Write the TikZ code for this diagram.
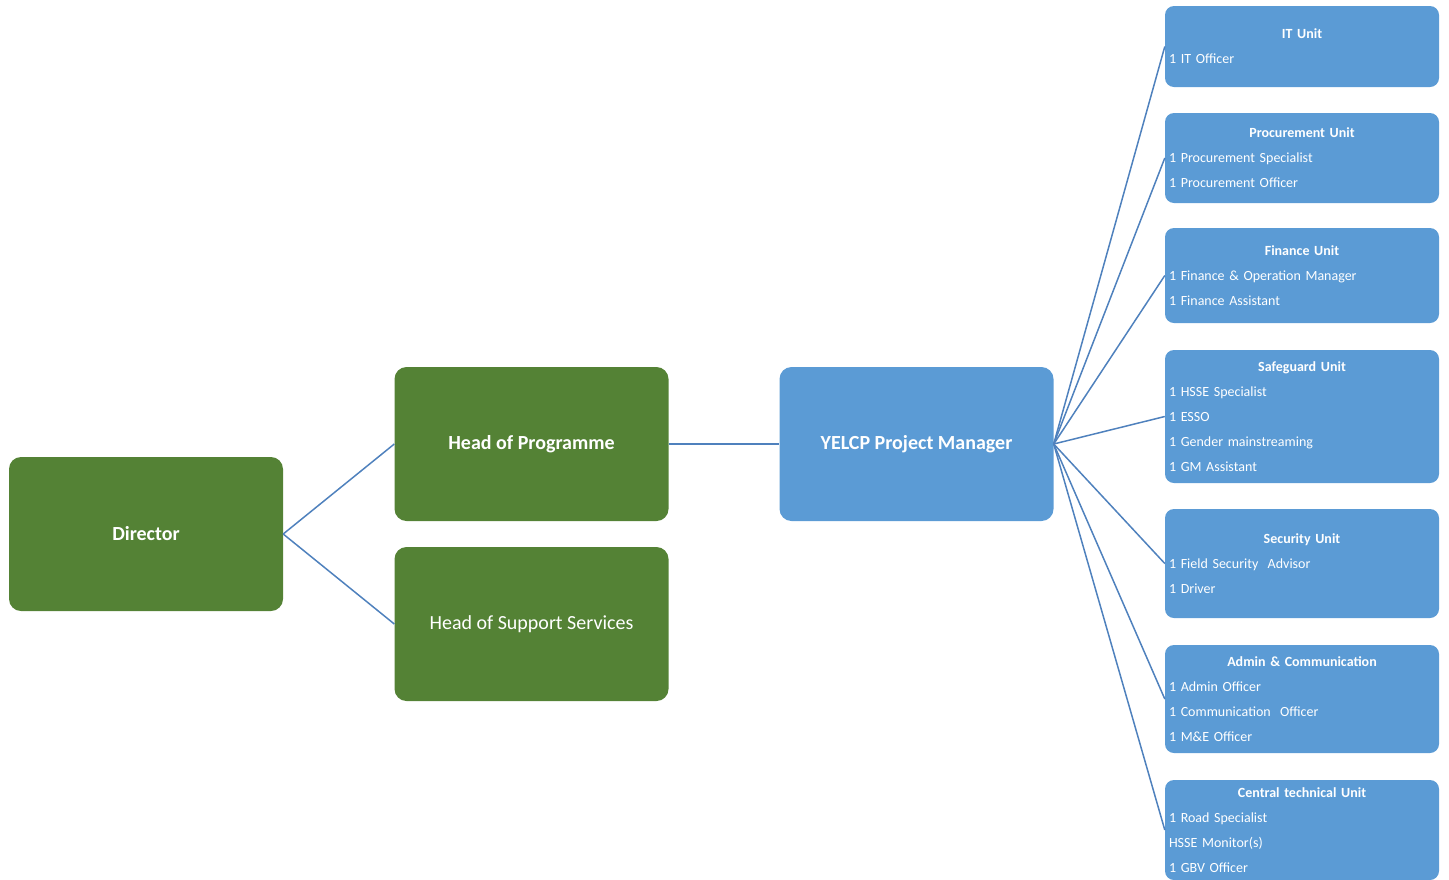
\documentclass[tikz,border=0pt]{standalone}
\usepackage{fontspec}
\setmainfont{Carlito}
\definecolor{boxgreen}{HTML}{548235}
\definecolor{boxblue}{HTML}{5B9BD5}
\definecolor{linkblue}{HTML}{4F81BD}
\begin{document}
\begin{tikzpicture}[x=1pt,y=-1pt,
  mainbox/.style={rounded corners=12pt, minimum width=274pt, minimum height=154pt, text=white, font=\fontsize{20}{24}\selectfont, inner sep=0pt},
  greenbox/.style={mainbox, fill=boxgreen},
  bluebox/.style={mainbox, fill=boxblue},
  unitbox/.style={rounded corners=9pt, fill=boxblue, text=white, text width=266pt, inner xsep=4pt, inner ysep=0pt, align=left, font=\fontsize{14}{25}\selectfont},
  link/.style={draw=linkblue, line width=1.5pt}]
\useasboundingbox (0,0) rectangle (1449,879);

\node[greenbox] (dir) at (146,534) {\bfseries Director};
\node[greenbox] (hop) at (531.5,444) {\bfseries Head of Programme};
\node[greenbox] (hss) at (531.5,624) {Head of Support Services};
\node[bluebox] (pm) at (916.5,444) {\bfseries YELCP Project Manager};

\node[unitbox, minimum height=81pt] (it) at (1302,46.5)
  {\makebox[\linewidth]{\bfseries IT Unit}\\1 IT Officer};
\node[unitbox, minimum height=90pt] (proc) at (1302,158)
  {\makebox[\linewidth]{\bfseries Procurement Unit}\\1 Procurement Specialist\\1 Procurement Officer};
\node[unitbox, minimum height=95pt] (fin) at (1302,275.5)
  {\makebox[\linewidth]{\bfseries Finance Unit}\\1 Finance \& Operation Manager\\1 Finance Assistant};
\node[unitbox, minimum height=133pt] (safe) at (1302,416.5)
  {\makebox[\linewidth]{\bfseries Safeguard Unit}\\1 HSSE Specialist\\1 ESSO\\1 Gender mainstreaming\\1 GM Assistant};
\node[unitbox, minimum height=109pt] (sec) at (1302,563.5)
  {\makebox[\linewidth]{\bfseries Security Unit}\\1 Field Security~ Advisor\\1 Driver};
\node[unitbox, minimum height=108pt] (adm) at (1302,699)
  {\makebox[\linewidth]{\bfseries Admin \& Communication}\\1 Admin Officer\\1 Communication~ Officer\\1 M\&E Officer};
\node[unitbox, minimum height=100pt] (ctu) at (1302,830)
  {\makebox[\linewidth]{\bfseries Central technical Unit}\\1 Road Specialist\\HSSE Monitor(s)\\1 GBV Officer};

\draw[link] (dir.east) -- (hop.west);
\draw[link] (dir.east) -- (hss.west);
\draw[link] (hop.east) -- (pm.west);
\foreach \u in {it,proc,fin,safe,sec,adm,ctu}
  \draw[link] (pm.east) -- (\u.west);
\end{tikzpicture}
\end{document}
